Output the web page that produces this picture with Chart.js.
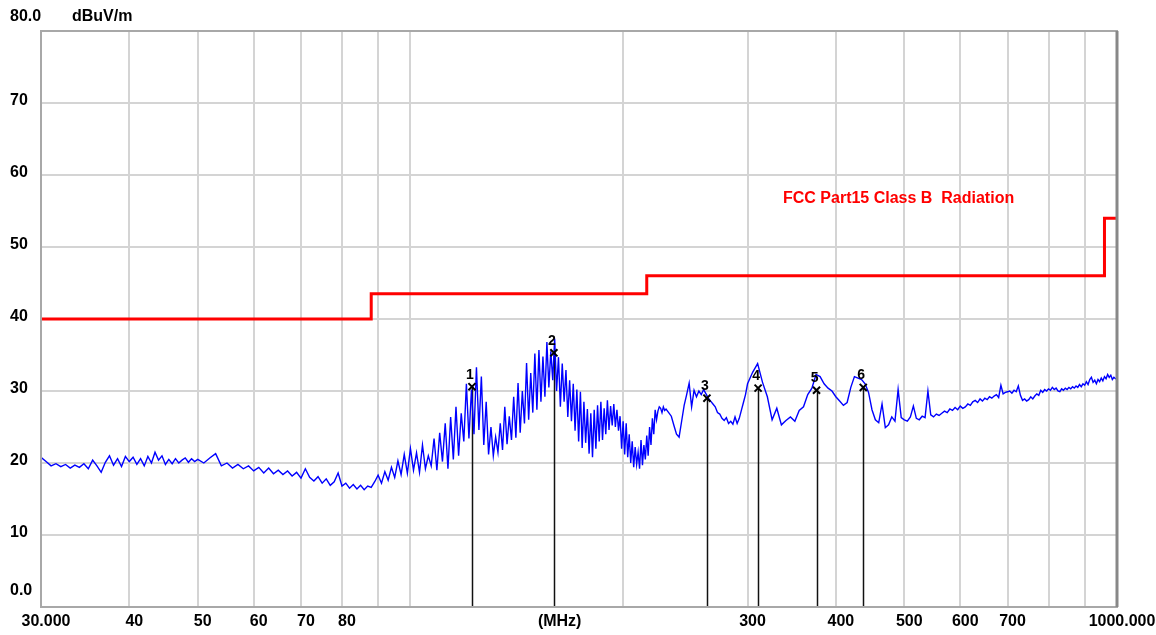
<!DOCTYPE html>
<html>
<head>
<meta charset="utf-8">
<script src="https://cdn.jsdelivr.net/npm/chart.js@4.4.1/dist/chart.umd.min.js"></script>
<style>
  html, body { margin: 0; padding: 0; background: #fff; }
</style>
</head>
<body>
<canvas id="emi" width="1156" height="635"></canvas>
<script>
// measured trace (MHz / dBuV/m)
const traceFreq = [
  30, 30.5, 31, 31.5, 32, 32.5, 33, 33.5, 34, 34.5,
  35, 35.5, 36, 36.5, 37, 37.5, 38, 38.5, 39, 39.5,
  40, 40.5, 41, 41.5, 42, 42.5, 43, 43.5, 44, 44.5,
  45, 45.5, 46, 46.5, 47, 47.5, 48, 48.5, 49, 49.5,
  50,
  51, 52, 53, 54, 55, 56, 57, 58, 59, 60,
  61, 62, 63, 64, 65, 66, 67, 68, 69, 70,
  71, 72, 73, 74, 75, 76, 77, 78, 79, 80,
  81, 82, 83, 84, 85, 86, 87, 88,
  89, 90, 91, 92, 93, 94, 95, 96, 97, 98,
  99, 100, 101, 102, 103, 104, 105, 106, 107, 108,
  109, 110, 111, 112, 113, 114, 115, 116, 117, 118,
  119, 120, 121, 122, 123, 124, 125, 126, 127, 128,
  129, 130, 131, 132, 133, 134, 135, 136, 137, 138,
  139, 140, 141, 142, 143, 144, 145, 146, 147, 148,
  149, 150, 151, 152, 153, 154, 155, 156, 157, 158,
  159, 160, 161, 162, 163, 164, 165, 166, 167, 168,
  169, 170, 171, 172, 173, 174, 175, 176, 177, 178,
  179, 180, 181, 182, 183, 184, 185, 186, 187, 188,
  189, 190, 191, 192, 193, 194, 195, 196, 197, 198,
  199, 200, 201, 202, 203, 204, 205, 206, 207, 208,
  209, 210, 211, 212, 213, 214, 215, 216, 217, 218,
  219, 220, 221, 222, 223, 224, 225, 226, 227, 228,
  229, 230,
  232, 234, 236, 238, 240, 242, 244, 246, 248, 250,
  252, 254, 256, 258, 260, 262, 264, 266, 268, 270,
  272, 274, 276, 278, 280, 282, 284, 286, 288, 290,
  292, 294, 296, 298,
  300, 305, 310, 315, 320, 325, 330, 335, 340, 345,
  350, 355, 360, 365, 370, 375, 380, 385, 390, 395,
  400, 405, 410, 415, 420, 425, 430, 435, 440, 445,
  450, 455, 460, 465, 470, 475, 480, 485, 490, 495,
  500, 505, 510, 515, 520, 525, 530, 535, 540, 545,
  550, 555, 560, 565, 570, 575, 580, 585, 590, 595,
  600, 605, 610, 615, 620, 625, 630, 635, 640, 645,
  650, 655, 660, 665, 670, 675, 680, 685, 690, 695,
  700, 705, 710, 715, 720, 725, 730, 735, 740, 745,
  750, 755, 760, 765, 770, 775, 780, 785, 790, 795,
  800, 805, 810, 815, 820, 825, 830, 835, 840, 845,
  850, 855, 860, 865, 870, 875, 880, 885, 890, 895,
  900, 905, 910, 915, 920, 925, 930, 935, 940, 945,
  950, 955, 960, 965, 970, 975, 980, 985, 990, 995,
  1000
];
const traceLevel = [
  20.8, 20.2, 19.6, 19.9, 19.5, 19.8, 19.3, 19.7, 19.4, 19.9,
  19.2, 20.4, 19.6, 18.7, 20.1, 21.0, 19.7, 20.6, 19.5, 20.9,
  20.2, 20.8, 19.8, 20.6, 19.6, 20.9, 20.0, 21.5, 20.4, 21.0,
  19.8, 20.5, 19.9, 20.6, 20.0, 20.4, 20.7, 20.1, 20.6, 20.2,
  20.5,
  20.0, 20.7, 21.3, 19.6, 20.0, 19.3, 19.8, 19.2, 19.6, 18.9,
  19.4, 18.6, 19.3, 18.5, 19.0, 18.4, 18.9, 18.2, 18.7, 17.9,
  19.2, 18.0, 17.5, 18.1, 17.2, 17.8, 16.9, 17.4, 18.6, 16.8,
  17.2, 16.5, 17.0, 16.4, 16.9, 16.3, 16.8, 16.6,
  17.4, 18.3, 17.2, 18.8, 17.6, 19.4, 18.0, 20.3, 18.4, 21.2,
  18.6, 22.0, 19.0, 21.4, 18.7, 22.5, 19.2, 21.0, 19.6, 23.4,
  19.0, 24.2, 20.2, 25.5, 19.2, 26.4, 20.5, 27.8, 21.0, 26.9,
  23.0, 31.0, 23.4, 30.2, 24.0, 33.3, 24.6, 32.0, 22.5, 28.5,
  21.2, 25.0, 21.0, 23.6, 21.5, 25.5, 21.8, 27.8, 22.6, 26.5,
  23.2, 29.2, 23.5, 31.1, 24.2, 30.0, 25.5, 33.9, 26.0, 32.5,
  27.0, 35.2, 27.4, 35.7, 28.5, 34.8, 29.2, 36.8, 30.5, 35.5,
  31.5, 37.3, 30.0, 34.7, 27.8, 33.8, 28.5, 32.9, 26.4, 31.5,
  25.8, 31.0, 24.5, 30.2, 23.0, 29.9, 22.1, 28.5, 22.8, 27.5,
  21.3, 26.9, 20.8, 27.4, 22.0, 28.0, 23.0, 28.5, 23.2, 27.6,
  24.0, 28.7, 24.6, 27.9, 25.2, 28.2, 25.0, 27.4, 24.5, 26.5,
  22.0, 25.8, 21.2, 25.5, 20.8, 24.0, 20.0, 23.0, 19.4, 22.2,
  19.8, 21.5, 19.2, 23.2, 19.7, 22.5, 20.5, 23.8, 21.0, 25.0,
  22.5, 26.2, 24.0, 27.4, 26.0, 27.2, 27.8, 27.6, 27.0, 27.8,
  27.3, 27.5,
  27.0, 26.5, 25.2, 24.0, 23.6, 25.8, 28.0, 29.5, 31.1, 27.8,
  30.1, 29.2, 30.0, 29.5, 30.2, 29.6, 29.0, 28.6, 28.2, 27.8,
  27.0, 26.8, 26.2, 25.9, 26.3, 25.5, 25.8, 25.4, 26.4, 25.5,
  26.2, 27.3, 28.4, 29.5,
  31.0, 32.6, 33.8, 31.2, 29.2, 26.0, 27.6, 25.3, 25.9, 26.4,
  25.8, 27.3, 27.8, 29.5, 30.4, 32.3, 32.0, 31.0, 30.4, 30.0,
  29.2, 28.6, 28.0, 28.4, 30.5, 32.0, 31.8, 31.6, 31.0, 29.8,
  27.4, 26.0, 25.6, 28.2, 24.9, 25.3, 26.4, 25.8, 30.2, 26.3,
  26.0, 25.8, 26.4, 27.9, 26.2, 26.0, 26.5, 26.3, 30.0, 26.7,
  26.4, 26.8, 26.6, 26.9, 27.2, 27.0, 27.5, 27.3, 27.7, 27.4,
  27.9, 27.6, 27.8, 28.2, 28.0, 28.5, 28.7, 28.4, 28.9, 28.6,
  29.0, 28.8, 29.2, 29.0, 29.3, 29.5, 29.1, 30.8, 29.6, 29.8,
  29.9, 30.0, 29.7, 30.1, 29.9, 30.7, 29.4, 28.7, 28.9, 28.6,
  28.8, 29.2, 28.9, 29.3, 29.6, 29.4, 30.1, 29.8, 30.2, 30.0,
  30.3, 30.1, 30.5, 30.2, 30.4, 30.0, 29.9, 30.3, 30.1, 30.4,
  30.2, 30.5, 30.3, 30.6, 30.4, 30.7, 30.5, 30.9, 30.6, 31.0,
  30.8, 31.3, 30.9, 31.6, 31.9, 31.2, 31.5, 31.0, 31.6, 31.3,
  31.8, 31.4, 32.0, 31.7, 32.3, 31.9, 32.2, 31.6, 31.9, 31.7,
  31.8
];

// FCC Part15 Class B limit line
const limitFreq = [30, 88, 88, 216, 216, 960, 960, 1000];
const limitLevel = [40, 40, 43.5, 43.5, 46, 46, 54, 54];

// peak markers
const markerNames = ['1', '2', '3', '4', '5', '6'];
const markerFreq = [122.2, 159.6, 262.8, 310.5, 375.6, 437.4];
const markerLevel = [30.6, 35.3, 29.0, 30.4, 30.1, 30.5];

// axes
const xTicks = [30, 40, 50, 60, 70, 80, 90, 100, 160, 200, 300, 400, 500, 600, 700, 800, 900, 1000];
const xTickLabels = ['30.000', '40', '50', '60', '70', '80', '', '', '(MHz)', '', '300', '400', '500', '600', '700', '', '', '1000.000'];
const yTicks = [0, 10, 20, 30, 40, 50, 60, 70, 80];

const FONT = '"Liberation Sans", Arial, sans-serif';

const pairs = (xs, ys) => xs.map((v, i) => ({ x: v, y: ys[i] }));

const overlay = {
  id: 'overlay',
  beforeDatasetsDraw(chart) {
    const { ctx, scales: { x, y } } = chart;
    ctx.save();
    ctx.strokeStyle = '#111';
    ctx.lineWidth = 1.5;
    markerFreq.forEach((f, i) => {
      const px = Math.round(x.getPixelForValue(f)) + 0.5;
      ctx.beginPath();
      ctx.moveTo(px, y.getPixelForValue(markerLevel[i]));
      ctx.lineTo(px, y.getPixelForValue(0));
      ctx.stroke();
    });
    ctx.restore();
  },
  afterDatasetsDraw(chart) {
    const { ctx, chartArea: a, scales: { x, y } } = chart;
    ctx.save();
    // plot frame
    ctx.strokeStyle = '#a8a8a8';
    ctx.lineWidth = 2;
    ctx.strokeRect(a.left, a.top, a.right - a.left, a.bottom - a.top);
    ctx.strokeStyle = '#888';
    ctx.lineWidth = 3;
    ctx.beginPath();
    ctx.moveTo(a.right, a.top);
    ctx.lineTo(a.right, a.bottom);
    ctx.stroke();

    // marker numbers
    ctx.fillStyle = '#000';
    ctx.font = 'bold 14px ' + FONT;
    ctx.textAlign = 'center';
    ctx.textBaseline = 'bottom';
    markerNames.forEach((n, i) => {
      ctx.fillText(n, x.getPixelForValue(markerFreq[i]) - 2, y.getPixelForValue(markerLevel[i]) - 5);
    });

    // axis captions
    ctx.font = 'bold 16px ' + FONT;
    ctx.textAlign = 'left';
    ctx.textBaseline = 'middle';
    ctx.fillText('80.0', 10, y.getPixelForValue(80) - 14);
    ctx.fillText('dBuV/m', 72, y.getPixelForValue(80) - 14);
    ctx.fillText('0.0', 10, y.getPixelForValue(0) - 16);

    ctx.fillStyle = '#ff0000';
    ctx.fillText('FCC Part15 Class B  Radiation', 783, 199);
    ctx.restore();
  }
};

new Chart(document.getElementById('emi'), {
  type: 'line',
  data: {
    datasets: [
      {
        label: 'Markers',
        data: pairs(markerFreq, markerLevel),
        showLine: false,
        pointStyle: 'crossRot',
        pointRadius: 5,
        borderColor: '#000',
        borderWidth: 2,
        order: 0
      },
      {
        label: 'Trace',
        data: pairs(traceFreq, traceLevel),
        borderColor: '#0000ff',
        borderWidth: 1.4,
        pointRadius: 0,
        tension: 0,
        order: 1
      },
      {
        label: 'FCC Part15 Class B Radiation',
        data: pairs(limitFreq, limitLevel),
        borderColor: '#ff0000',
        borderWidth: 3,
        pointRadius: 0,
        tension: 0,
        order: 2
      }
    ]
  },
  options: {
    responsive: false,
    animation: false,
    layout: { padding: { top: 31, right: 39, left: 10, bottom: 0 } },
    plugins: {
      legend: { display: false },
      tooltip: { enabled: false }
    },
    scales: {
      x: {
        type: 'logarithmic',
        min: 30,
        max: 1000,
        afterFit: s => { s.height = 28; },
        afterBuildTicks: s => { s.ticks = xTicks.map(v => ({ value: v })); },
        border: { display: false },
        grid: {
          drawTicks: false,
          lineWidth: 2,
          color: c => (c.tick && [30, 160, 1000].includes(c.tick.value)) ? 'rgba(0,0,0,0)' : '#d4d4d4'
        },
        ticks: {
          autoSkip: false,
          maxRotation: 0,
          padding: 5,
          labelOffset: 5,
          color: '#000',
          font: { family: FONT, size: 16, weight: 'bold' },
          callback: (v, i) => xTickLabels[i]
        }
      },
      y: {
        min: 0,
        max: 80,
        afterFit: s => { s.width = 31; },
        afterBuildTicks: s => { s.ticks = yTicks.map(v => ({ value: v })); },
        border: { display: false },
        grid: {
          drawTicks: false,
          lineWidth: 2,
          color: c => (c.tick && (c.tick.value === 0 || c.tick.value === 80)) ? 'rgba(0,0,0,0)' : '#d4d4d4'
        },
        ticks: {
          crossAlign: 'far',
          labelOffset: -2,
          color: '#000',
          font: { family: FONT, size: 16, weight: 'bold' },
          callback: v => (v === 0 || v === 80) ? '' : String(v)
        }
      }
    }
  },
  plugins: [overlay]
});
</script>
</body>
</html>
